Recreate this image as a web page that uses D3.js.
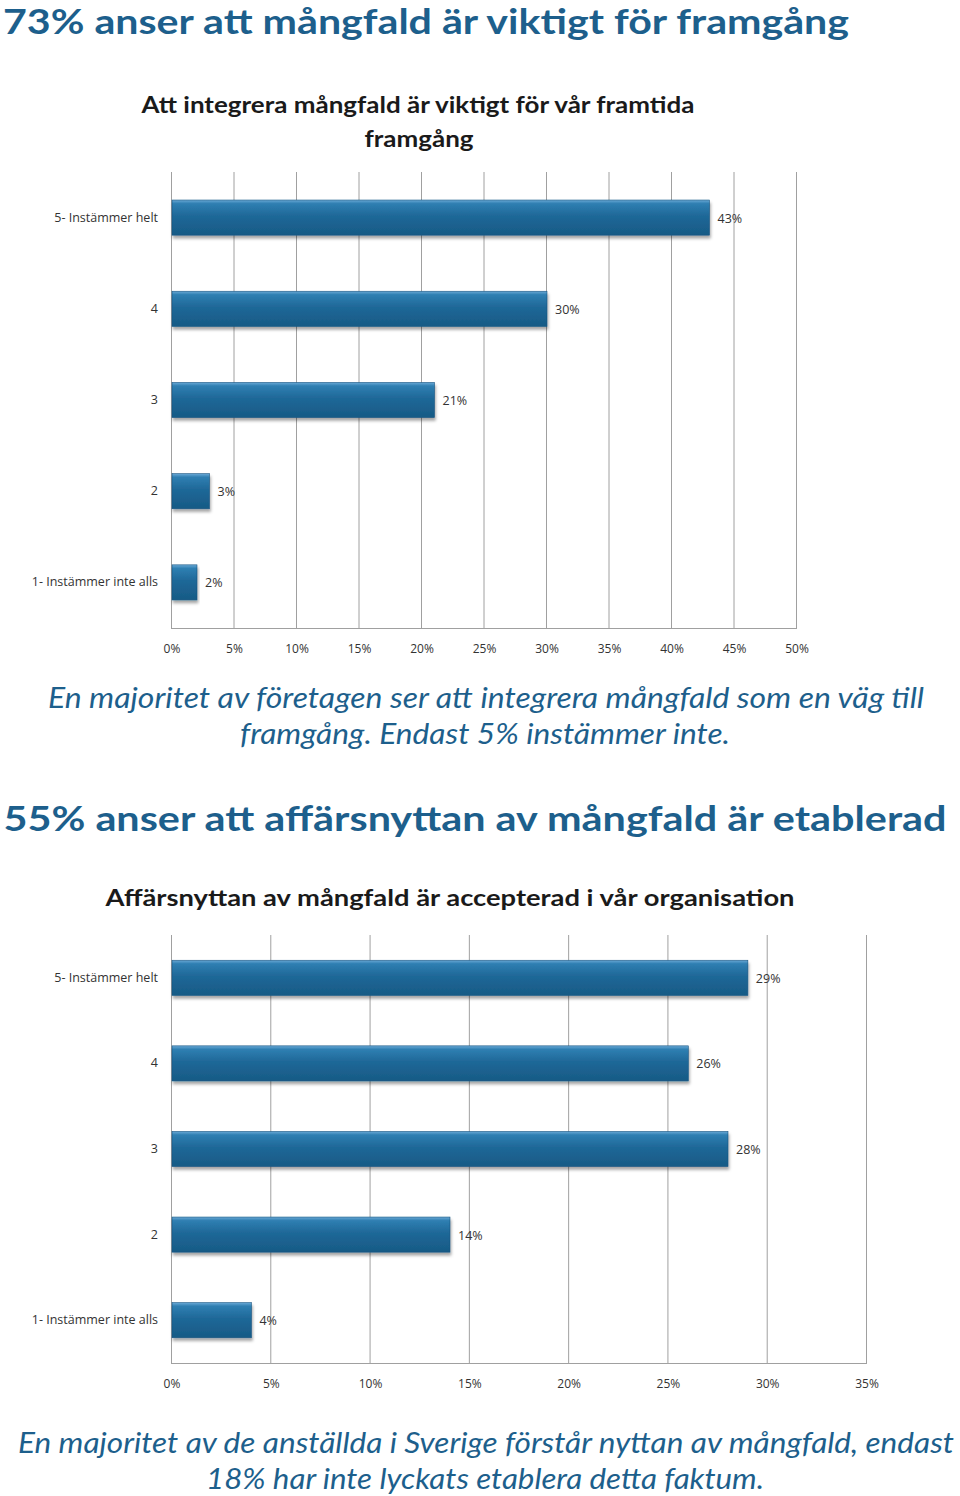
<!DOCTYPE html>
<html>
<head>
<meta charset="utf-8">
<script src="https://cdn.jsdelivr.net/npm/d3@7"></script>
<style>
  body { margin: 0; background: #fff; }
  svg { display: block; }
</style>
</head>
<body>
<div id="chart"></div>
<script>
// data
const categories = ['5- Instämmer helt', '4', '3', '2', '1- Instämmer inte alls'];
const valuesSuccess = [43, 30, 21, 3, 2];
const valuesBenefit = [29, 26, 28, 14, 4];
const ticksSuccess = [0, 5, 10, 15, 20, 25, 30, 35, 40, 45, 50];
const ticksBenefit = [0, 5, 10, 15, 20, 25, 30, 35];

const width = 960, height = 1496;
const blue = '#1d5f8c';

const svg = d3.select('#chart').append('svg')
    .attr('width', width)
    .attr('height', height);

// bar gradient + shadow
const defs = svg.append('defs');
const grad = defs.append('linearGradient')
    .attr('id', 'barGrad')
    .attr('x1', 0).attr('y1', 0).attr('x2', 0).attr('y2', 1);
grad.append('stop').attr('offset', '0%').attr('stop-color', '#6aa9d6');
grad.append('stop').attr('offset', '10%').attr('stop-color', '#2f7fb2');
grad.append('stop').attr('offset', '45%').attr('stop-color', '#1f6898');
grad.append('stop').attr('offset', '100%').attr('stop-color', '#175a85');

const shadow = defs.append('filter').attr('id', 'shadow')
    .attr('x', '-5%').attr('y', '-20%').attr('width', '115%').attr('height', '160%');
shadow.append('feDropShadow')
    .attr('dx', 1).attr('dy', 3).attr('stdDeviation', 1.5)
    .attr('flood-color', '#000').attr('flood-opacity', 0.35);

// helper for text with a fixed width
function fitText(txt, x, y, w, opts) {
    const t = svg.append('text')
        .attr('x', x)
        .attr('y', y)
        .attr('text-anchor', 'middle')
        .attr('font-family', opts.family || 'Lato, "Open Sans", sans-serif')
        .attr('font-size', opts.size)
        .attr('font-weight', opts.weight || 'normal')
        .attr('font-style', opts.style || 'normal')
        .attr('fill', opts.color)
        .attr('textLength', w)
        .attr('lengthAdjust', 'spacingAndGlyphs')
        .text(txt);
    return t;
}

function drawChart(cfg) {
    const x = d3.scaleLinear()
        .domain([0, cfg.max])
        .range([cfg.left, cfg.right]);

    const y = d3.scaleBand()
        .domain(categories)
        .range([cfg.top, cfg.bottom])
        .paddingInner(cfg.pad)
        .paddingOuter(cfg.pad / 2);

    const g = svg.append('g');

    // vertical grid lines
    g.selectAll('.grid')
        .data(cfg.ticks)
        .enter()
        .append('line')
        .attr('x1', d => x(d) + 0.5)
        .attr('x2', d => x(d) + 0.5)
        .attr('y1', cfg.top)
        .attr('y2', cfg.bottom)
        .attr('stroke', '#a0a0a0')
        .attr('stroke-width', 1);

    // bottom axis line
    g.append('line')
        .attr('x1', x(0))
        .attr('x2', x(cfg.max) + 1)
        .attr('y1', cfg.bottom + 0.5)
        .attr('y2', cfg.bottom + 0.5)
        .attr('stroke', '#a0a0a0');

    // tick labels
    g.selectAll('.tick-label')
        .data(cfg.ticks)
        .enter()
        .append('text')
        .attr('x', d => x(d) + 1)
        .attr('y', cfg.bottom + 25)
        .attr('text-anchor', 'middle')
        .attr('font-family', '"Open Sans", "DejaVu Sans", sans-serif')
        .attr('font-size', 12)
        .attr('fill', '#333')
        .text(d => d + '%');

    // category labels
    g.selectAll('.cat-label')
        .data(categories)
        .enter()
        .append('text')
        .attr('x', cfg.left - 13)
        .attr('y', d => y(d) + y.bandwidth() / 2 + 4)
        .attr('text-anchor', 'end')
        .attr('font-family', '"Open Sans", "DejaVu Sans", sans-serif')
        .attr('font-size', 12.5)
        .attr('fill', '#333')
        .text(d => d);

    // bars
    g.selectAll('.bar')
        .data(cfg.values)
        .enter()
        .append('rect')
        .attr('x', x(0) + 1)
        .attr('y', (d, i) => y(categories[i]))
        .attr('width', d => x(d) - x(0))
        .attr('height', y.bandwidth())
        .attr('fill', 'url(#barGrad)')
        .attr('stroke', '#165480')
        .attr('stroke-width', 0.6)
        .attr('filter', 'url(#shadow)');

    // value labels
    g.selectAll('.val-label')
        .data(cfg.values)
        .enter()
        .append('text')
        .attr('x', d => x(d) + 9)
        .attr('y', (d, i) => y(categories[i]) + y.bandwidth() / 2 + 5)
        .attr('font-family', '"Open Sans", "DejaVu Sans", sans-serif')
        .attr('font-size', 12.5)
        .attr('fill', '#333')
        .text(d => d + '%');
}

// ---- Section 1 ----
fitText('73% anser att mångfald är viktigt för framgång', 426, 34, 846,
    { size: 34, weight: 'bold', color: blue });

fitText('Att integrera mångfald är viktigt för vår framtida', 418, 113, 553,
    { size: 23, weight: 'bold', color: '#1a1a1a' });
fitText('framgång', 419, 147, 109,
    { size: 23, weight: 'bold', color: '#1a1a1a' });

drawChart({
    values: valuesSuccess,
    ticks: ticksSuccess,
    max: 50,
    left: 171, right: 796,
    top: 172, bottom: 628,
    pad: 0.615
});

fitText('En majoritet av företagen ser att integrera mångfald som en väg till', 486, 708, 876,
    { size: 29, style: 'italic', color: blue });
fitText('framgång. Endast 5% instämmer inte.', 485, 744, 490,
    { size: 29, style: 'italic', color: blue });

// ---- Section 2 ----
fitText('55% anser att affärsnyttan av mångfald är etablerad', 475, 831, 943,
    { size: 34, weight: 'bold', color: blue });

fitText('Affärsnyttan av mångfald är accepterad i vår organisation', 450, 906, 689,
    { size: 23, weight: 'bold', color: '#1a1a1a' });

drawChart({
    values: valuesBenefit,
    ticks: ticksBenefit,
    max: 35,
    left: 171, right: 866,
    top: 935, bottom: 1363,
    pad: 0.59
});

fitText('En majoritet av de anställda i Sverige förstår nyttan av mångfald, endast', 486, 1453, 936,
    { size: 29, style: 'italic', color: blue });
fitText('18% har inte lyckats etablera detta faktum.', 485, 1489, 558,
    { size: 29, style: 'italic', color: blue });
</script>
</body>
</html>
